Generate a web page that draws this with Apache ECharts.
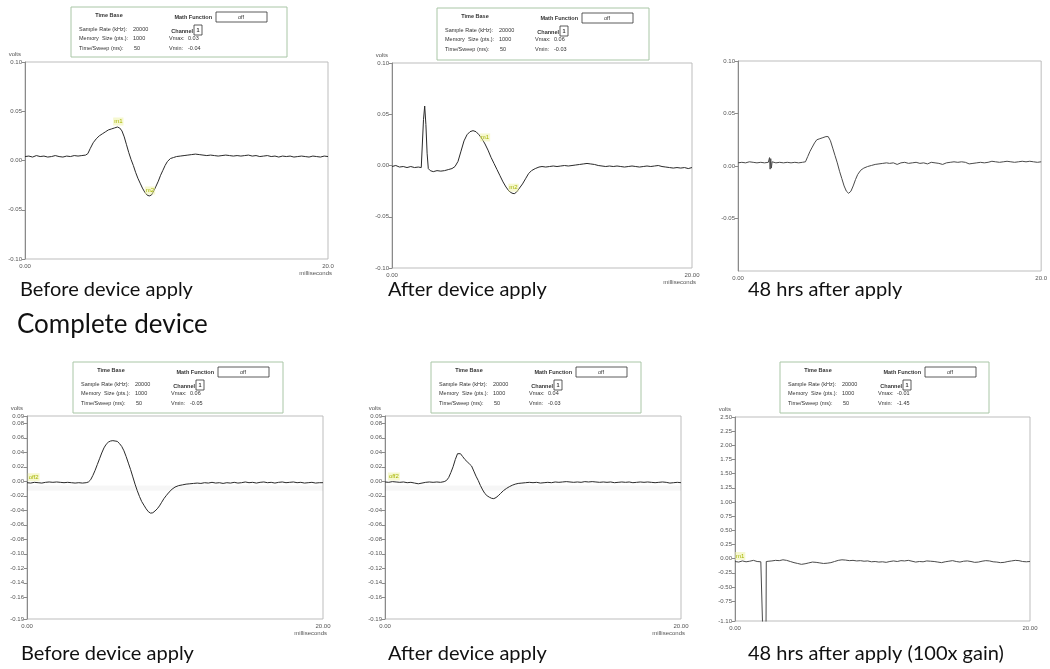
<!DOCTYPE html>
<html><head><meta charset="utf-8">
<script src="https://cdn.jsdelivr.net/npm/echarts@6/dist/echarts.min.js"></script>
<style>html,body{margin:0;padding:0;background:#fff}#c{width:1050px;height:669px}</style>
</head><body><div id="c"></div>
<script>
// ---------- DATA (time in ms, amplitude in volts) ----------
const trace1 = [[0,0.004],[0.25,0.0045],[0.5,0.0035],[0.75,0.005],[1,0.004],[1.25,0.0045],[1.5,0.0035],[1.75,0.004],[2,0.005],[2.25,0.004],[2.5,0.0035],[2.75,0.0045],[3,0.004],[3.25,0.005],[3.5,0.0045],[3.75,0.005],[4,0.0055],[4.15,0.007],[4.3,0.012],[4.5,0.018],[4.7,0.022],[4.9,0.025],[5.1,0.027],[5.3,0.029],[5.5,0.031],[5.7,0.032],[5.9,0.033],[6.1,0.034],[6.25,0.033],[6.4,0.030],[6.55,0.024],[6.7,0.016],[6.85,0.008],[7,0.001],[7.15,-0.005],[7.3,-0.012],[7.45,-0.018],[7.6,-0.023],[7.75,-0.028],[7.9,-0.032],[8.05,-0.035],[8.2,-0.036],[8.35,-0.035],[8.5,-0.031],[8.65,-0.026],[8.8,-0.021],[8.95,-0.015],[9.1,-0.010],[9.25,-0.005],[9.4,-0.001],[9.6,0.002],[9.8,0.003],[10,0.004],[10.25,0.0045],[10.5,0.005],[10.75,0.0055],[11,0.006],[11.25,0.0065],[11.5,0.006],[11.75,0.0055],[12,0.005],[12.25,0.0055],[12.5,0.005],[12.75,0.0045],[13,0.005],[13.25,0.0055],[13.5,0.005],[13.75,0.0045],[14,0.005],[14.25,0.0045],[14.5,0.005],[14.75,0.0055],[15,0.0045],[15.25,0.005],[15.5,0.004],[15.75,0.0045],[16,0.005],[16.25,0.004],[16.5,0.0045],[16.75,0.0035],[17,0.0045],[17.25,0.004],[17.5,0.0045],[17.75,0.0035],[18,0.004],[18.25,0.0045],[18.5,0.004],[18.75,0.0035],[19,0.0045],[19.25,0.004],[19.5,0.0035],[19.75,0.0045],[20,0.004]];

const trace2 = [[0,-0.001],[0.25,0],[0.5,-0.0015],[0.75,-0.001],[1,-0.002],[1.25,-0.001],[1.5,-0.002],[1.75,-0.0015],[1.95,-0.002],[2.02,0.02],[2.1,0.045],[2.18,0.058],[2.26,0.04],[2.34,0.012],[2.42,-0.003],[2.55,-0.005],[2.75,-0.006],[3,-0.005],[3.25,-0.0055],[3.5,-0.005],[3.75,-0.004],[4,-0.003],[4.2,-0.001],[4.4,0.004],[4.6,0.014],[4.8,0.024],[5,0.030],[5.2,0.033],[5.4,0.034],[5.6,0.033],[5.8,0.030],[6,0.026],[6.2,0.021],[6.4,0.015],[6.6,0.008],[6.8,0.002],[7,-0.004],[7.2,-0.010],[7.4,-0.016],[7.6,-0.021],[7.8,-0.025],[8,-0.027],[8.15,-0.0275],[8.3,-0.026],[8.5,-0.022],[8.7,-0.018],[8.9,-0.013],[9.1,-0.008],[9.3,-0.005],[9.55,-0.003],[9.8,-0.0015],[10,-0.001],[10.25,-0.0015],[10.5,-0.001],[10.75,-0.0005],[11,-0.001],[11.25,-0.0005],[11.5,0],[11.75,-0.0005],[12,0],[12.25,0.0005],[12.5,0.001],[12.75,0.0015],[13,0.002],[13.25,0.0015],[13.5,0.001],[13.75,0],[14,-0.0005],[14.25,-0.001],[14.5,-0.0005],[14.75,-0.001],[15,-0.0005],[15.25,-0.001],[15.5,-0.0015],[15.75,-0.001],[16,-0.0005],[16.25,-0.001],[16.5,-0.0015],[16.75,-0.001],[17,-0.0005],[17.25,-0.001],[17.5,-0.0005],[17.75,0],[18,-0.001],[18.25,-0.0015],[18.5,-0.002],[18.75,-0.0025],[19,-0.002],[19.25,-0.0025],[19.5,-0.002],[19.75,-0.003],[20,-0.002]];

const trace3 = [[0,0.003],[0.25,0.0035],[0.5,0.003],[0.75,0.004],[1,0.0035],[1.25,0.003],[1.5,0.0035],[1.75,0.003],[2,0.0035],[2.08,0.008],[2.12,-0.003],[2.16,0.007],[2.2,-0.002],[2.25,0.004],[2.5,0.003],[2.75,0.0035],[3,0.003],[3.25,0.0035],[3.5,0.003],[3.75,0.0035],[4,0.003],[4.25,0.0035],[4.45,0.004],[4.6,0.009],[4.75,0.014],[4.9,0.018],[5.05,0.022],[5.2,0.025],[5.4,0.026],[5.6,0.027],[5.8,0.028],[5.95,0.028],[6.1,0.024],[6.25,0.017],[6.4,0.010],[6.55,0.003],[6.7,-0.005],[6.85,-0.012],[7,-0.019],[7.15,-0.024],[7.3,-0.026],[7.45,-0.024],[7.6,-0.019],[7.75,-0.013],[7.9,-0.008],[8.1,-0.004],[8.3,-0.002],[8.55,-0.0005],[8.8,0.0005],[9.05,0.0015],[9.3,0.002],[9.55,0.0025],[9.8,0.003],[10,0.0025],[10.25,0.003],[10.5,0.0015],[10.75,0.003],[11,0.0035],[11.25,0.0025],[11.5,0.003],[11.75,0.0035],[12,0.0025],[12.25,0.003],[12.5,0.002],[12.75,0.0035],[13,0.003],[13.25,0.0025],[13.5,0.0015],[13.75,0.003],[14,0.0035],[14.25,0.004],[14.5,0.0035],[14.75,0.004],[15,0.0035],[15.25,0.002],[15.5,0.0025],[15.75,0.003],[16,0.0035],[16.25,0.003],[16.5,0.0035],[16.75,0.0045],[17,0.004],[17.25,0.0035],[17.5,0.004],[17.75,0.0045],[18,0.004],[18.25,0.0035],[18.5,0.004],[18.75,0.0045],[19,0.004],[19.25,0.0045],[19.5,0.004],[19.75,0.0035],[20,0.004]];

const trace4 = [[0,-0.002],[0.25,-0.0025],[0.5,-0.0015],[0.75,-0.002],[1,-0.0025],[1.25,-0.0015],[1.5,-0.001],[1.75,-0.0015],[2,-0.001],[2.25,-0.0015],[2.5,-0.002],[2.75,-0.0015],[3,-0.002],[3.25,-0.0025],[3.5,-0.002],[3.75,-0.0025],[4,-0.002],[4.15,-0.001],[4.3,0.002],[4.45,0.008],[4.6,0.015],[4.75,0.023],[4.9,0.031],[5.05,0.039],[5.2,0.046],[5.35,0.051],[5.5,0.054],[5.65,0.0555],[5.8,0.056],[5.95,0.0555],[6.1,0.055],[6.25,0.052],[6.4,0.048],[6.55,0.042],[6.7,0.034],[6.85,0.025],[7,0.016],[7.15,0.006],[7.3,-0.004],[7.45,-0.013],[7.6,-0.021],[7.75,-0.028],[7.9,-0.033],[8.05,-0.038],[8.2,-0.042],[8.35,-0.044],[8.5,-0.0435],[8.65,-0.041],[8.8,-0.038],[8.95,-0.034],[9.1,-0.029],[9.25,-0.024],[9.4,-0.020],[9.6,-0.015],[9.8,-0.011],[10,-0.008],[10.25,-0.006],[10.5,-0.005],[10.75,-0.004],[11,-0.0035],[11.25,-0.003],[11.5,-0.0025],[11.75,-0.003],[12,-0.002],[12.25,-0.0025],[12.5,-0.0015],[12.75,-0.0025],[13,-0.002],[13.25,-0.003],[13.5,-0.002],[13.75,-0.0025],[14,-0.0015],[14.25,-0.0025],[14.5,-0.002],[14.75,-0.001],[15,-0.002],[15.25,-0.0015],[15.5,-0.0025],[15.75,-0.0015],[16,-0.001],[16.25,-0.002],[16.5,-0.0015],[16.75,-0.0025],[17,-0.0015],[17.25,-0.001],[17.5,-0.002],[17.75,-0.0015],[18,-0.001],[18.25,-0.002],[18.5,-0.0015],[18.75,-0.0025],[19,-0.002],[19.25,-0.0015],[19.5,-0.0025],[19.75,-0.002],[20,-0.002]];

const trace5 = [[0,-0.001],[0.25,-0.0015],[0.5,-0.0005],[0.75,-0.001],[1,-0.0015],[1.25,-0.001],[1.5,-0.002],[1.75,-0.0015],[2,-0.0025],[2.25,-0.0035],[2.5,-0.0025],[2.75,-0.0015],[3,-0.001],[3.25,-0.0015],[3.5,-0.001],[3.75,-0.0015],[4,-0.0005],[4.15,0.001],[4.3,0.005],[4.45,0.012],[4.6,0.020],[4.75,0.030],[4.9,0.038],[5,0.0395],[5.1,0.038],[5.25,0.034],[5.4,0.030],[5.55,0.027],[5.7,0.024],[5.85,0.021],[6,0.014],[6.15,0.007],[6.3,0.001],[6.45,-0.006],[6.6,-0.012],[6.75,-0.017],[6.9,-0.020],[7.05,-0.022],[7.2,-0.0235],[7.35,-0.024],[7.5,-0.0225],[7.65,-0.020],[7.8,-0.017],[8,-0.013],[8.2,-0.010],[8.4,-0.0075],[8.6,-0.0055],[8.8,-0.004],[9,-0.003],[9.25,-0.0025],[9.5,-0.002],[9.75,-0.0015],[10,-0.002],[10.25,-0.0015],[10.5,-0.0025],[10.75,-0.002],[11,-0.0015],[11.25,-0.002],[11.5,-0.001],[11.75,-0.0015],[12,-0.001],[12.25,-0.0005],[12.5,-0.001],[12.75,-0.0015],[13,-0.001],[13.25,-0.0015],[13.5,-0.0005],[13.75,-0.001],[14,-0.0005],[14.25,-0.001],[14.5,-0.0015],[14.75,-0.001],[15,-0.0015],[15.25,-0.001],[15.5,-0.002],[15.75,-0.0015],[16,-0.001],[16.25,-0.0015],[16.5,-0.001],[16.75,-0.002],[17,-0.0015],[17.25,-0.001],[17.5,-0.0015],[17.75,-0.001],[18,-0.0015],[18.25,-0.002],[18.5,-0.0015],[18.75,-0.001],[19,-0.0015],[19.25,-0.0025],[19.5,-0.002],[19.75,-0.0015],[20,-0.002]];

const trace6 = [[0,-0.05],[0.25,-0.06],[0.5,-0.04],[0.75,-0.055],[1,-0.045],[1.25,-0.03],[1.5,-0.05],[1.75,-0.055],[1.88,-0.05],[1.9,-1.45],[2.1,-1.45],[2.12,-0.05],[2.3,-0.045],[2.5,-0.04],[2.75,-0.03],[3,-0.035],[3.25,-0.02],[3.5,-0.03],[3.75,-0.05],[4,-0.07],[4.25,-0.085],[4.5,-0.1],[4.75,-0.09],[5,-0.075],[5.25,-0.06],[5.5,-0.065],[5.75,-0.075],[6,-0.085],[6.25,-0.08],[6.5,-0.07],[6.75,-0.05],[7,-0.03],[7.25,-0.02],[7.5,-0.025],[7.75,-0.035],[8,-0.03],[8.25,-0.04],[8.5,-0.035],[8.75,-0.045],[9,-0.04],[9.25,-0.055],[9.5,-0.05],[9.75,-0.06],[10,-0.055],[10.25,-0.065],[10.5,-0.05],[10.75,-0.04],[11,-0.05],[11.25,-0.035],[11.5,-0.04],[11.75,-0.03],[12,-0.045],[12.25,-0.06],[12.5,-0.05],[12.75,-0.055],[13,-0.04],[13.25,-0.045],[13.5,-0.05],[13.75,-0.06],[14,-0.07],[14.25,-0.055],[14.5,-0.045],[14.75,-0.035],[15,-0.05],[15.25,-0.06],[15.5,-0.045],[15.75,-0.04],[16,-0.05],[16.25,-0.065],[16.5,-0.06],[16.75,-0.045],[17,-0.035],[17.25,-0.04],[17.5,-0.055],[17.75,-0.06],[18,-0.07],[18.25,-0.065],[18.5,-0.05],[18.75,-0.04],[19,-0.03],[19.25,-0.035],[19.5,-0.05],[19.75,-0.055],[20,-0.05]];

const panelTitles = ['Before device apply', 'After device apply', '48 hrs after apply', 'Before device apply', 'After device apply', '48 hrs after apply (100x gain)'];
const sectionTitle = 'Complete device';
const vmaxValues = ['0.03', '0.06', null, '0.06', '0.04', '-0.01'];
const vminValues = ['-0.04', '-0.03', null, '-0.05', '-0.03', '-1.45'];
const yTicksTop = [-0.10, -0.05, 0, 0.05, 0.10];
const yTicksTopRight = [-0.05, 0, 0.05, 0.10];
const yTicksBottom = [-0.19, -0.16, -0.14, -0.12, -0.10, -0.08, -0.06, -0.04, -0.02, 0, 0.02, 0.04, 0.06, 0.08, 0.09];
const yTicksGain = [-1.10, -0.75, -0.50, -0.25, 0, 0.25, 0.50, 0.75, 1.00, 1.25, 1.50, 1.75, 2.00, 2.25, 2.50];
const xEndLabels = ['20.0', '20.00', '20.0', '20.00', '20.00', '20.00'];
const markers = [
  [{name: 'm1', coord: [6.16, 0.034]}, {name: 'm2', coord: [8.25, -0.036]}],
  [{name: 'm1', coord: [6.2, 0.022]}, {name: 'm2', coord: [8.1, -0.027]}],
  [],
  [{name: 'off2', coord: [0.45, -0.002]}],
  [{name: 'off2', coord: [0.6, -0.001]}],
  [{name: 'm1', coord: [0.35, -0.05]}]
];

// ---------- LAYOUT ----------
const traces = [trace1, trace2, trace3, trace4, trace5, trace6];
const panels = [
  {left: 25, top: 62, width: 303, height: 197, min: -0.10, max: 0.10, ticks: yTicksTop, volts: true, ms: true},
  {left: 392, top: 63, width: 300, height: 205, min: -0.10, max: 0.10, ticks: yTicksTop, volts: true, ms: true},
  {left: 738, top: 61, width: 310, height: 210, min: -0.10, max: 0.10, ticks: yTicksTopRight, volts: false, ms: false},
  {left: 27, top: 416, width: 296, height: 203, min: -0.19, max: 0.09, ticks: yTicksBottom, volts: true, ms: true},
  {left: 385, top: 416, width: 296, height: 203, min: -0.19, max: 0.09, ticks: yTicksBottom, volts: true, ms: true},
  {left: 735, top: 417, width: 295, height: 204, min: -1.10, max: 2.50, ticks: yTicksGain, volts: true, ms: false}
];
const boxes = [
  {x: 71, y: 7, w: 216, h: 50, p: 0},
  {x: 437, y: 8, w: 212, h: 52, p: 1},
  {x: 73, y: 362, w: 210, h: 51, p: 3},
  {x: 431, y: 362, w: 210, h: 51, p: 4},
  {x: 780, y: 362, w: 209, h: 51, p: 5}
];
const titlePos = [[20, 290], [388, 290], [748, 290], [21, 654], [388, 654], [748, 654]];

const fmt = v => (Math.abs(v) < 1e-9 ? 0 : v).toFixed(2);
const smallFont = '"Liberation Sans", Arial, sans-serif';
const bigFont = 'Lato, "Open Sans", sans-serif';

const grid = [], xAxis = [], yAxis = [], series = [];
panels.forEach((p, i) => {
  grid.push({left: p.left, top: p.top, width: p.width, height: p.height, show: true,
    borderColor: '#bdbdbd', borderWidth: 1, backgroundColor: '#fff'});
  xAxis.push({type: 'value', gridIndex: i, min: 0, max: 20, interval: 20, position: 'bottom',
    axisLine: {show: false, onZero: false}, axisTick: {show: false}, splitLine: {show: false},
    axisLabel: {fontSize: 6, color: '#555', fontFamily: smallFont, margin: 4,
      formatter: v => (v === 0 ? '0.00' : xEndLabels[i])},
    name: p.ms ? 'milliseconds' : '', nameLocation: 'end', nameGap: 4,
    nameTextStyle: {fontSize: 6, color: '#555', fontFamily: smallFont, align: 'right', verticalAlign: 'top', padding: [11, 0, 0, 0]}
  });
  yAxis.push({type: 'value', gridIndex: i, min: p.min, max: p.max,
    splitLine: {show: false},
    axisLine: {show: true, onZero: false, lineStyle: {color: '#8a8a8a', width: 1}},
    axisTick: {show: true, length: 3, customValues: p.ticks, lineStyle: {color: '#8a8a8a'}},
    axisLabel: {fontSize: 6, color: '#555', fontFamily: smallFont, margin: 3, customValues: p.ticks, formatter: fmt},
    name: p.volts ? 'volts' : '', nameLocation: 'end', nameGap: 5,
    nameTextStyle: {fontSize: 6, color: '#555', fontFamily: smallFont, align: 'right', padding: [0, 4, 0, 0]}
  });
  const s = {type: 'line', xAxisIndex: i, yAxisIndex: i, data: traces[i], showSymbol: false,
    symbol: 'none', clip: true, animation: false,
    lineStyle: {color: i === 2 || i === 5 ? '#4a4a4a' : '#2a2a2a', width: 1},
    markPoint: {symbol: 'rect', symbolSize: [1, 1], itemStyle: {color: 'rgba(0,0,0,0)'},
      label: {show: true, position: 'top', distance: 1, formatter: '{b}', fontSize: 6, color: '#a6b400',
        fontFamily: smallFont, backgroundColor: 'rgba(238,242,170,0.55)', padding: [1, 1]},
      data: markers[i]}
  };
  if (i === 3 || i === 4) {
    s.markArea = {silent: true, itemStyle: {color: 'rgba(0,0,0,0.035)'}, data: [[{yAxis: -0.013}, {yAxis: -0.006}]]};
  }
  series.push(s);
});

const graphic = [];
boxes.forEach(b => {
  const t = (x, y, text, bold, align) => ({type: 'text', x: x, y: y,
    style: {text: text, fontSize: 5.5, fontFamily: smallFont, fontWeight: bold ? 'bold' : 'normal',
      fill: '#333', align: align || 'left', verticalAlign: 'middle'}});
  const children = [
    {type: 'rect', shape: {x: 0, y: 0, width: b.w, height: b.h}, style: {fill: '#fff', stroke: '#a9c6a6', lineWidth: 1}},
    t(38, 8, 'Time Base', true, 'center'),
    t(141, 10, 'Math Function', true, 'right'),
    {type: 'rect', shape: {x: 145, y: 5, width: 51, height: 10}, style: {fill: '#fff', stroke: '#333', lineWidth: 0.8}},
    t(170, 10, 'off', false, 'center'),
    t(8, 22, 'Sample Rate (kHz):'), t(62, 22, '20000'),
    t(122, 24, 'Channel', true, 'right'),
    {type: 'rect', shape: {x: 123, y: 18, width: 8, height: 10}, style: {fill: '#fff', stroke: '#333', lineWidth: 0.8}},
    t(127, 23, '1', true, 'center'),
    t(8, 31, 'Memory  Size (pts.):'), t(62, 31, '1000'),
    t(98, 31, 'Vmax:'), t(117, 31, vmaxValues[b.p]),
    t(8, 41, 'Time/Sweep (ms):'), t(63, 41, '50'),
    t(98, 41, 'Vmin:'), t(117, 41, vminValues[b.p])
  ];
  graphic.push({type: 'group', x: b.x, y: b.y, children: children});
});
panelTitles.forEach((txt, i) => {
  graphic.push({type: 'text', x: titlePos[i][0], y: titlePos[i][1],
    style: {text: txt, fontSize: 20, fontFamily: bigFont, fill: '#111', verticalAlign: 'middle'}});
});
graphic.push({type: 'text', x: 17, y: 325,
  style: {text: sectionTitle, fontSize: 26, fontFamily: bigFont, fill: '#111', verticalAlign: 'middle'}});

const chart = echarts.init(document.getElementById('c'), null, {renderer: 'canvas'});
chart.setOption({backgroundColor: '#fff', animation: false, grid, xAxis, yAxis, series, graphic});
</script></body></html>
